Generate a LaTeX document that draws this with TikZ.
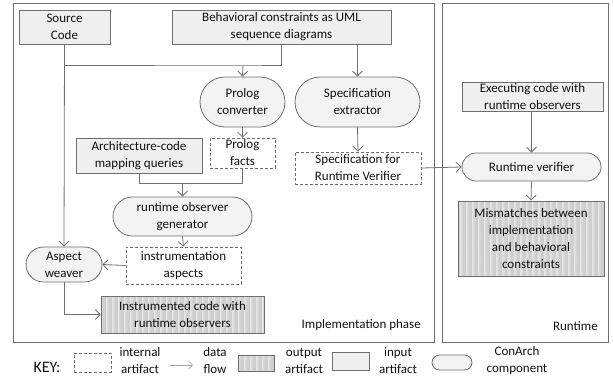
\documentclass[tikz,border=0pt]{standalone}
\usepackage{fontspec}
\setmainfont{Carlito}
\usetikzlibrary{arrows.meta,shapes.misc,patterns.meta}
\definecolor{edge}{HTML}{6E6E6E}
\definecolor{flow}{HTML}{707070}
\definecolor{inputfill}{HTML}{EFEFEF}
\definecolor{compfill}{HTML}{F3F3F3}
\definecolor{ink}{HTML}{111111}
\tikzset{
  every picture/.style={execute at begin picture={\fontsize{13pt}{17pt}\selectfont}},
  every node/.style={font=\fontsize{13pt}{17pt}\selectfont, text=ink, align=center, inner sep=0pt},
  inputbox/.style={draw=edge, fill=inputfill, line width=0.8pt},
  internalbox/.style={draw=edge, dash pattern=on 3pt off 2pt, line width=0.7pt},
  outputbox/.style={draw=edge, line width=0.9pt, preaction={fill=gray!20},
    pattern={Lines[angle=90,distance=1.2pt,line width=0.3pt]}, pattern color=gray!38},
  component/.style={rounded rectangle, draw=edge, fill=compfill, line width=0.8pt},
  frame/.style={draw=edge, line width=0.8pt},
  dataflow/.style={draw=flow, line width=0.8pt},
  arr/.style={dataflow, -{Straight Barb[length=5pt,width=10pt]}},
  sz/.style 2 args={minimum width=#1pt, minimum height=#2pt},
}
\begin{document}
\begin{tikzpicture}[x=1pt,y=-1pt]
\useasboundingbox (0,0) rectangle (613,381);

% phase frames
\draw[frame] (13,3) rectangle (434,342);
\draw[frame] (442,3) rectangle (608,342);
\node[anchor=east] (implabel) at (421,325) {Implementation phase};
\node[anchor=east] (rtlabel) at (598,326) {Runtime};

% implementation phase
\node[inputbox, sz={91}{34}] (src) at (64.5,27) {Source\\Code};
\node[inputbox, sz={219}{34}] (behav) at (281.5,27) {Behavioral constraints as UML\\sequence diagrams};
\node[component, sz={85}{50}] (pc) at (242.5,102) {Prolog\\converter};
\node[component, sz={125}{50}] (se) at (357.5,102) {Specification\\extractor};
\node[internalbox, sz={65}{30}] (pf) at (242.5,153) {Prolog\\facts};
\node[inputbox, sz={126}{35}] (arch) at (139,155.5) {Architecture-code\\mapping queries};
\node[internalbox, sz={126}{32}] (srv) at (358,168) {Specification for\\Runtime Verifier};
\node[component, sz={139}{39}] (rog) at (182.5,216.5) {runtime observer\\generator};
\node[internalbox, sz={115}{37}] (ia) at (183.5,265.5) {instrumentation\\aspects};
\node[component, sz={76}{35}] (aw) at (64,264.5) {Aspect\\weaver};
\node[outputbox, sz={163}{37}] (ic) at (182.5,314.5) {Instrumented code with\\runtime observers};

% runtime
\node[inputbox, sz={141}{29}] (exec) at (532.5,96.5) {Executing code with\\runtime observers};
\node[component, sz={139}{28}] (rv) at (531.5,167) {Runtime verifier};
\node[outputbox, sz={146}{75}] (mm) at (531,238.5) {Mismatches between\\implementation\\and behavioral\\constraints};

% data flows
\coordinate (merge) at (243,65);
\draw[dataflow] (behav.south) |- (merge) -- (merge -| src.south);
\draw[arr] (src.south) -- (aw.north);
\draw[arr] (merge) -- (pc.north);
\draw[arr] (se.north |- behav.south) -- (se.north);
\draw[arr] (pc.south) -- (pf.north);
\draw[arr] (se.south) -- (srv.north);
\coordinate (join) at (182.5,183);
\draw[dataflow] (arch.south) |- (join);
\draw[dataflow] (pf.south) |- (join);
\draw[arr] (join) -- (rog.north);
\draw[arr] (rog.south) -- (ia.north);
\draw[arr] (ia.west) -- (aw.east);
\draw[arr] (aw.south) |- (ic.west);
\draw[arr] (srv.east) -- (rv.west);
\draw[arr] (exec.south -| rv.north) -- (rv.north);
\draw[arr] (rv.south) -- (mm.north);

% key
\node (key) at (47,367) {\fontsize{16pt}{18pt}\selectfont KEY:};
\node[internalbox, sz={37}{19}] (kint) at (92.5,362.5) {};
\node (kintt) at (140,361) {internal\\artifact};
\coordinate (kfa) at (170,365);
\coordinate (kfb) at (193,365);
\draw[draw=gray!70, line width=0.7pt, -{Straight Barb[length=4pt,width=8pt]}] (kfa) -- (kfb);
\node (kflowt) at (215,361) {data\\flow};
\node[outputbox, sz={36}{16}] (kout) at (256,363) {};
\node (koutt) at (304,361) {output\\artifact};
\node[inputbox, sz={37}{18}] (kin) at (350.5,361) {};
\node (kint2) at (398,361) {input\\artifact};
\node[component, sz={40}{15}] (kcomp) at (452,362.5) {};
\node (kcompt) at (517,361) {ConArch\\component};
\end{tikzpicture}
\end{document}
